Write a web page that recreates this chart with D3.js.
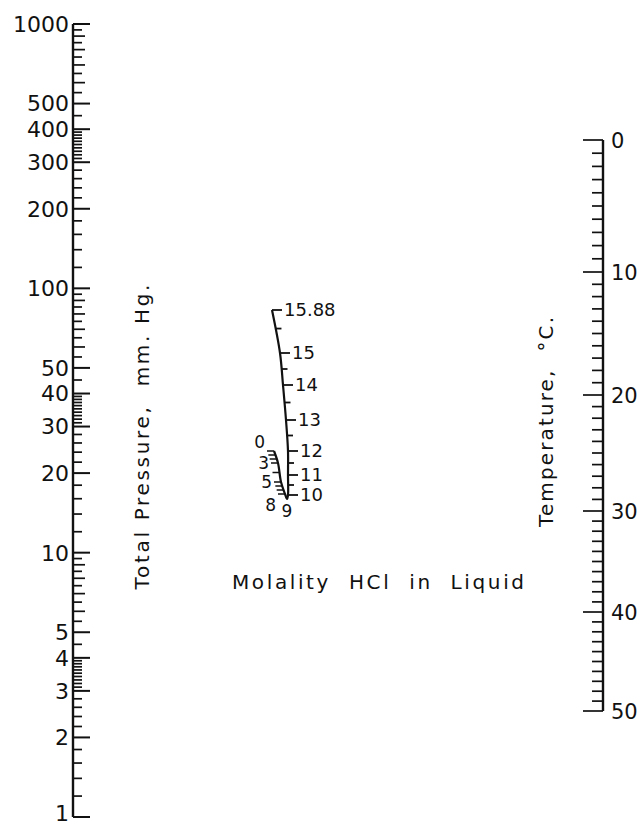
<!DOCTYPE html>
<html>
<head>
<meta charset="utf-8">
<script src="https://cdn.jsdelivr.net/npm/d3@7"></script>
<style>
  body { margin: 0; background: #fff; }
  text { font-family: "DejaVu Sans", sans-serif; fill: #111; white-space: pre; }
</style>
</head>
<body>
<script>
// total pressure, mm Hg (log scale)
var pressureLabels = [1, 2, 3, 4, 5, 10, 20, 30, 40, 50, 100, 200, 300, 400, 500, 1000];
var pressureDecades = [1, 10, 100];
var pressureMantissas = [1.2, 1.4, 1.6, 1.8, 2.2, 2.4, 2.6, 2.8,
    3.1, 3.2, 3.3, 3.4, 3.5, 3.6, 3.7, 3.8, 3.9, 4.5,
    5.5, 6, 6.5, 7, 7.5, 8, 8.5, 9, 9.5];

// temperature, deg C
var tempLabels = [0, 10, 20, 30, 40, 50];
var tempTicks = d3.range(0, 51);

// molality HCl in liquid (scale folds back at 9)
var molalityLower = [0, 1, 2, 3, 4, 5, 6, 7, 8];
var molalityUpper = [10, 10.5, 11, 11.5, 12, 12.5, 13, 13.5, 14, 14.5, 15, 15.5, 15.88];
var molalityLowerLabels = [0, 3, 5, 8];
var molalityUpperLabels = [10, 11, 12, 13, 14, 15, 15.88];

var W = 643, H = 828;
var svg = d3.select("body").append("svg")
    .attr("width", W).attr("height", H);

// ---- pressure axis ----
var px = 73;
var yP = d3.scaleLog().domain([1, 1000]).range([817, 24]);

var pTicks = [];
pressureDecades.forEach(function(d) {
    pressureMantissas.forEach(function(m) { pTicks.push(+(d * m).toFixed(3)); });
});

var gP = svg.append("g");
gP.append("line")
    .attr("x1", px).attr("x2", px)
    .attr("y1", yP(1000)).attr("y2", yP(1))
    .attr("stroke", "#111").attr("stroke-width", 2.4);

gP.selectAll(".pminor").data(pTicks).enter().append("line")
    .attr("x1", px).attr("x2", function(d) {
        var m = d / Math.pow(10, Math.floor(Math.log10(d) + 1e-9));
        return px + (Math.abs(m - Math.round(m)) < 1e-6 ? 12 : 9);
    })
    .attr("y1", function(d) { return yP(d); })
    .attr("y2", function(d) { return yP(d); })
    .attr("stroke", "#111").attr("stroke-width", 1.7);

gP.selectAll(".pmajor").data(pressureLabels).enter().append("line")
    .attr("x1", px).attr("x2", px + 17)
    .attr("y1", function(d) { return yP(d); })
    .attr("y2", function(d) { return yP(d); })
    .attr("stroke", "#111").attr("stroke-width", 2);

gP.selectAll(".plabel").data(pressureLabels).enter().append("text")
    .attr("x", px - 4)
    .attr("y", function(d) { return yP(d); })
    .attr("dy", function(d) { return d === 1 ? "0.2em" : "0.36em"; })
    .attr("text-anchor", "end")
    .attr("font-size", 22)
    .text(function(d) { return d; });

svg.append("text")
    .attr("transform", "translate(149,437) rotate(-90)")
    .attr("text-anchor", "middle")
    .attr("font-size", 20)
    .attr("textLength", 305).attr("lengthAdjust", "spacing")
    .text("Total Pressure,  mm. Hg.");

// ---- temperature axis ----
var tx = 603;
var yT = d3.scaleLinear()
    .domain(tempLabels)
    .range([140, 272, 395, 511, 612, 711]);

var gT = svg.append("g");
gT.append("line")
    .attr("x1", tx).attr("x2", tx)
    .attr("y1", yT(0)).attr("y2", yT(50))
    .attr("stroke", "#111").attr("stroke-width", 2.4);

gT.selectAll(".tt").data(tempTicks).enter().append("line")
    .attr("x1", tx)
    .attr("x2", function(d) { return tx - (d % 10 === 0 ? 20 : 11); })
    .attr("y1", function(d) { return yT(d); })
    .attr("y2", function(d) { return yT(d); })
    .attr("stroke", "#111").attr("stroke-width", 1.7);

gT.selectAll(".tl").data(tempLabels).enter().append("text")
    .attr("x", tx + 8)
    .attr("y", function(d) { return yT(d); })
    .attr("dy", "0.36em")
    .attr("font-size", 21)
    .text(function(d) { return d; });

svg.append("text")
    .attr("transform", "translate(553,422) rotate(-90)")
    .attr("text-anchor", "middle")
    .attr("font-size", 20)
    .attr("textLength", 210).attr("lengthAdjust", "spacing")
    .text("Temperature,  \u00b0C.");

// ---- molality curve ----
var mStops = [0, 3, 5, 8, 9, 10, 11, 12, 13, 14, 15, 15.88];
var mY = d3.scaleLinear().domain(mStops)
    .range([451, 463, 482, 494, 499, 495, 475, 451, 420, 385, 353, 310]);
var mX = d3.scaleLinear().domain(mStops)
    .range([274, 278, 281, 285, 287, 288, 288, 288, 286, 283, 280, 272]);

var gM = svg.append("g");
var curve = d3.line()
    .x(function(d) { return mX(d); })
    .y(function(d) { return mY(d); })
    .curve(d3.curveCatmullRom);

gM.append("path")
    .attr("d", curve(mStops))
    .attr("fill", "none").attr("stroke", "#111").attr("stroke-width", 2.2);

gM.selectAll(".ml").data(molalityLower).enter().append("line")
    .attr("x1", function(d) { return mX(d); })
    .attr("x2", function(d) { return mX(d) - 7; })
    .attr("y1", function(d) { return mY(d); })
    .attr("y2", function(d) { return mY(d); })
    .attr("stroke", "#111").attr("stroke-width", 1.5);

gM.selectAll(".mu").data(molalityUpper).enter().append("line")
    .attr("x1", function(d) { return mX(d); })
    .attr("x2", function(d) {
        return mX(d) + (molalityUpperLabels.indexOf(d) >= 0 ? 10 : 6);
    })
    .attr("y1", function(d) { return mY(d); })
    .attr("y2", function(d) { return mY(d); })
    .attr("stroke", "#111").attr("stroke-width", 1.8);

gM.selectAll(".mul").data(molalityUpperLabels).enter().append("text")
    .attr("x", function(d) { return mX(d) + 12; })
    .attr("y", function(d) { return mY(d); })
    .attr("dy", "0.36em")
    .attr("font-size", 18)
    .text(function(d) { return d; });

gM.selectAll(".mll").data(molalityLowerLabels).enter().append("text")
    .attr("x", function(d) { return mX(d) - 9; })
    .attr("y", function(d) { return mY(d) + (d === 0 ? -9 : d === 8 ? 11 : 0); })
    .attr("dy", "0.36em")
    .attr("text-anchor", "end")
    .attr("font-size", 17)
    .text(function(d) { return d; });

gM.append("text")
    .attr("x", mX(9)).attr("y", mY(9) + 12)
    .attr("dy", "0.36em")
    .attr("text-anchor", "middle")
    .attr("font-size", 17)
    .text("9");

svg.append("text")
    .attr("x", 378).attr("y", 582)
    .attr("dy", "0.36em")
    .attr("text-anchor", "middle")
    .attr("font-size", 20)
    .attr("textLength", 292).attr("lengthAdjust", "spacing")
    .text("Molality  HCl  in  Liquid");
</script>
</body>
</html>
